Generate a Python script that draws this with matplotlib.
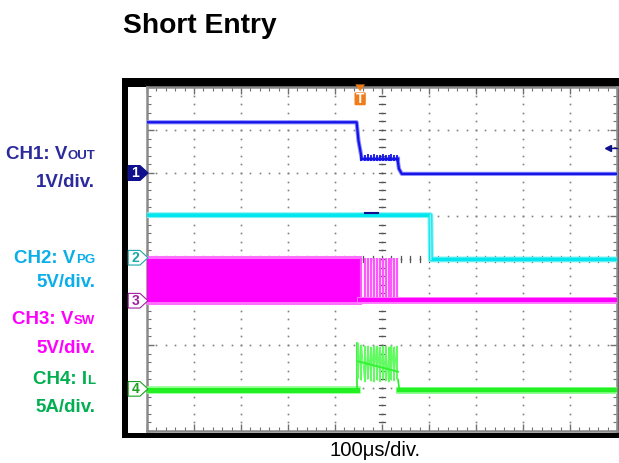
import numpy as np
import matplotlib.pyplot as plt
from matplotlib.patches import Rectangle, Polygon, FancyBboxPatch

plt.rcParams['font.family'] = ['Liberation Sans', 'DejaVu Sans']

W, H = 619, 463


def fx(px):
    return px / W


def fy(py):
    return 1 - py / H


# ---- waveform data (time in divisions, level in divisions) ----
ch1_t = [0, 4.46, 4.50, 4.57]
ch1_v = [3.18, 3.18, 2.75, 2.33]
ch1_t2 = [5.33, 5.36, 5.42, 10]
ch1_v2 = [2.33, 2.10, 1.98, 1.98]
ch1_ripple_top = [2.45, 2.44, 2.43, 2.45, 2.42, 2.44, 2.43, 2.42, 2.44, 2.43, 2.41, 2.44, 2.42, 2.43]
ch1_ripple_bot = [2.28, 2.27, 2.29, 2.28, 2.29, 2.27, 2.28, 2.29, 2.27, 2.28, 2.29, 2.27, 2.28, 2.29]

ch2_t = [0, 6.03, 6.04, 10]
ch2_v = [1.02, 1.02, -0.01, -0.01]

ch3_band_end = 4.53
ch3_hi = 0.05
ch3_lo = -1.03
ch3_low_level = -0.95

ch4_base = -3.05
ch4_start = 4.475
ch4_end = 5.37
ch4_top = [-1.96, -2.00, -2.03, -2.02, -2.05, -2.03, -2.02, -2.05, -2.02, -2.03, -2.05, -2.02, -2.04, -2.03]
ch4_bot = [-2.78, -2.82, -2.85, -2.80, -2.84, -2.86, -2.82, -2.85, -2.80, -2.84, -2.86, -2.82, -2.83, -2.80]
ch4_mid_t = [4.49, 5.34]
ch4_mid_v = [-2.38, -2.62]

# switching pulses seen during the short
pulse_t = [4.49, 4.56, 4.63, 4.70, 4.77, 4.84, 4.90, 4.96, 5.02, 5.08, 5.14, 5.20, 5.26, 5.32]

markers = [("1", 2.0), ("2", 0.03), ("3", -0.97), ("4", -3.02)]
marker_col = ['#10108c', '#1aa8a8', '#a020a0', '#20a020']

c_blue = '#1414e6'
c_cyan = '#00e6ee'
c_mag = '#ff00ff'
c_grn = '#22f022'

fig = plt.figure(figsize=(W / 100, H / 100), dpi=100)

# scope frame
fig.patches.append(Rectangle((fx(122), fy(438)), fx(620) - fx(122), fy(78) - fy(438),
                             transform=fig.transFigure, facecolor='black', zorder=-2))
fig.patches.append(Rectangle((fx(128), fy(433)), fx(617) - fx(128), fy(87) - fy(433),
                             transform=fig.transFigure, facecolor='white', zorder=-1))

ax = fig.add_axes([fx(147), fy(431), 470 / W, 344 / H])
ax.set_xlim(0, 10)
ax.set_ylim(-4, 4)
ax.set_facecolor('white')

# graticule dots
minor = np.arange(0, 10.01, 0.2)
minor_y = np.arange(-4, 4.01, 0.2)
for gx in range(1, 10):
    ax.plot([gx] * len(minor_y), minor_y, ls='none', marker='s', ms=1.2,
            color='#808080', mew=0, zorder=1)
for gy in range(-3, 4):
    ax.plot(minor, [gy] * len(minor), ls='none', marker='s', ms=1.2,
            color='#808080', mew=0, zorder=1)
# center cross ticks
for yy in minor_y:
    ax.plot([4.93, 5.07], [yy, yy], color='#555555', lw=0.9, zorder=1)
for xx in minor:
    ax.plot([xx, xx], [-0.07, 0.07], color='#555555', lw=0.9, zorder=1)

ax.set_xticks(range(0, 11))
ax.set_yticks(range(-4, 5))
ax.set_xticks(minor, minor=True)
ax.set_yticks(minor_y, minor=True)
ax.tick_params(which='both', direction='in', top=True, right=True,
               labelbottom=False, labelleft=False, color='#707070')
ax.tick_params(which='major', length=5, width=1)
ax.tick_params(which='minor', length=3, width=0.8)
for s in ax.spines.values():
    s.set_color('#8a8a8a')
    s.set_linewidth(1.8)

# CH3 switching node
ax.fill_between([0, ch3_band_end], ch3_lo, ch3_hi, color=c_mag, lw=0, zorder=3)
ax.plot([0, ch3_band_end], [ch3_hi, ch3_hi], color='#ff70ff', lw=2.2, zorder=3)
ax.plot([0, ch3_band_end], [ch3_lo, ch3_lo], color='#ff70ff', lw=2.2, zorder=3)
ax.vlines(pulse_t[1:], ch3_lo + 0.05, ch3_hi - 0.02, color='#ff55ff', lw=1.6, zorder=3)
ax.plot([ch3_band_end, 10], [ch3_low_level, ch3_low_level], color='#ff80ff', lw=5, zorder=3)
ax.plot([ch3_band_end, 10], [ch3_low_level, ch3_low_level], color=c_mag, lw=3, zorder=3)

# CH2 power good
ax.plot(ch2_t, ch2_v, color='#80f2f6', lw=4.2, zorder=4)
ax.plot(ch2_t, ch2_v, color=c_cyan, lw=2.6, zorder=4)
ax.plot(ch2_t[1:3], ch2_v[1:3], color='#80f0f0', lw=1.2, zorder=4)

# CH1 output voltage
for lw, col in [(3, '#8a8aff'), (1.6, c_blue)]:
    ax.plot(ch1_t, ch1_v, color=col, lw=lw, zorder=5)
    ax.plot(ch1_t2, ch1_v2, color=col, lw=lw, zorder=5)
    ax.plot([ch1_t[-1], ch1_t2[0]], [2.32, 2.32], color=col, lw=lw, zorder=5)
ax.vlines(pulse_t[1:], ch1_ripple_bot[1:], ch1_ripple_top[1:], color=c_blue, lw=1.3, zorder=5)

# CH4 inductor current
ax.plot([0, ch4_start], [ch4_base, ch4_base], color='#90ff90', lw=5.5, zorder=6)
ax.plot([0, ch4_start], [ch4_base, ch4_base], color=c_grn, lw=3.6, zorder=6)
ax.plot([ch4_end, 10], [ch4_base, ch4_base], color='#90ff90', lw=5, zorder=6)
ax.plot([ch4_end, 10], [ch4_base, ch4_base], color=c_grn, lw=3.2, zorder=6)
ax.plot([ch4_start, ch4_start], [ch4_base, ch4_top[0]], color=c_grn, lw=1.2, zorder=6)
ax.plot([ch4_end - 0.03, ch4_end], [ch4_bot[-1], ch4_base], color=c_grn, lw=1.2, zorder=6)
ax.vlines(pulse_t, ch4_bot, ch4_top, color='#55ff55', lw=1.4, zorder=6)
saw_t, saw_v = [], []
for i, t in enumerate(pulse_t):
    saw_t += [t, t + 0.005]
    saw_v += [ch4_bot[i], ch4_top[i]]
ax.plot(saw_t, saw_v, color='#66fa66', lw=0.8, zorder=6)
ax.plot(ch4_mid_t, ch4_mid_v, color='#33f233', lw=1.4, zorder=6)

# channel markers at left edge
for (lab, lvl), col in zip(markers, marker_col):
    pts = [(-0.40, lvl + 0.17), (-0.15, lvl + 0.17), (0.02, lvl),
           (-0.15, lvl - 0.17), (-0.40, lvl - 0.17)]
    if lab == "1":
        ax.add_patch(Polygon(pts, closed=True, facecolor=col, edgecolor=col,
                             lw=1, clip_on=False, zorder=8))
        tc = 'white'
    else:
        ax.add_patch(Polygon(pts, closed=True, facecolor='white', edgecolor=col,
                             lw=0.8, clip_on=False, zorder=8))
        tc = col
    ax.text(-0.25, lvl, lab, color=tc, fontsize=10, fontweight='bold',
            ha='center', va='center', zorder=9, clip_on=False)

# trigger position marker
ax.add_patch(Polygon([(4.43, 4.06), (4.64, 4.06), (4.535, 3.90)], closed=True,
                     facecolor='#f07d1a', edgecolor='none', clip_on=False, zorder=9))
ax.add_patch(FancyBboxPatch((4.44, 3.60), 0.19, 0.25, boxstyle='round,pad=0.025',
                            facecolor='#f07d1a', edgecolor='none', clip_on=False, zorder=9))
ax.text(4.535, 3.72, "T", color='white', fontsize=10, fontweight='bold',
        ha='center', va='center', zorder=10)

# trigger level markers
ax.plot([9.8, 10], [2.58, 2.58], color='#10108c', lw=1, zorder=9, clip_on=False)
ax.plot([9.8], [2.58], marker='<', color='#10108c', ms=5, zorder=9, clip_on=False)
ax.plot([4.64, 4.91], [1.07, 1.07], color='#10108c', lw=1.5, zorder=9)

# titles and labels
fig.text(fx(123), fy(33), "Short Entry", fontsize=20.3, fontweight='bold',
         ha='left', va='baseline')
fig.text(fx(375), fy(456), "100\u03bcs/div.", fontsize=14.6, ha='center', va='baseline')

renderer = fig.canvas.get_renderer()
labels = [
    ("CH1: V", "OUT", 159, '#2b2b9b'),
    ("CH2: V", "PG", 263, '#0aaee8'),
    ("CH3: V", "SW", 324, '#ff00ff'),
    ("CH4: I", "L", 384, '#00b050'),
]
for big, small, base, col in labels:
    st = fig.text(fx(95), fy(base), small, fontsize=9.5, fontweight='bold',
                  color=col, ha='right', va='baseline')
    wpx = st.get_window_extent(renderer).width
    fig.text(fx(95 - wpx), fy(base), big, fontsize=13.5, fontweight='bold',
             color=col, ha='right', va='baseline')

scales = [("1V/div.", 187, '#2b2b9b'), ("5V/div.", 287, '#0aaee8'),
          ("5V/div.", 353, '#ff00ff'), ("5A/div.", 412, '#00b050')]
for txt, base, col in scales:
    fig.text(fx(95), fy(base), txt, fontsize=13.5, fontweight='bold',
             color=col, ha='right', va='baseline')

fig.savefig('out.png', dpi=100)
